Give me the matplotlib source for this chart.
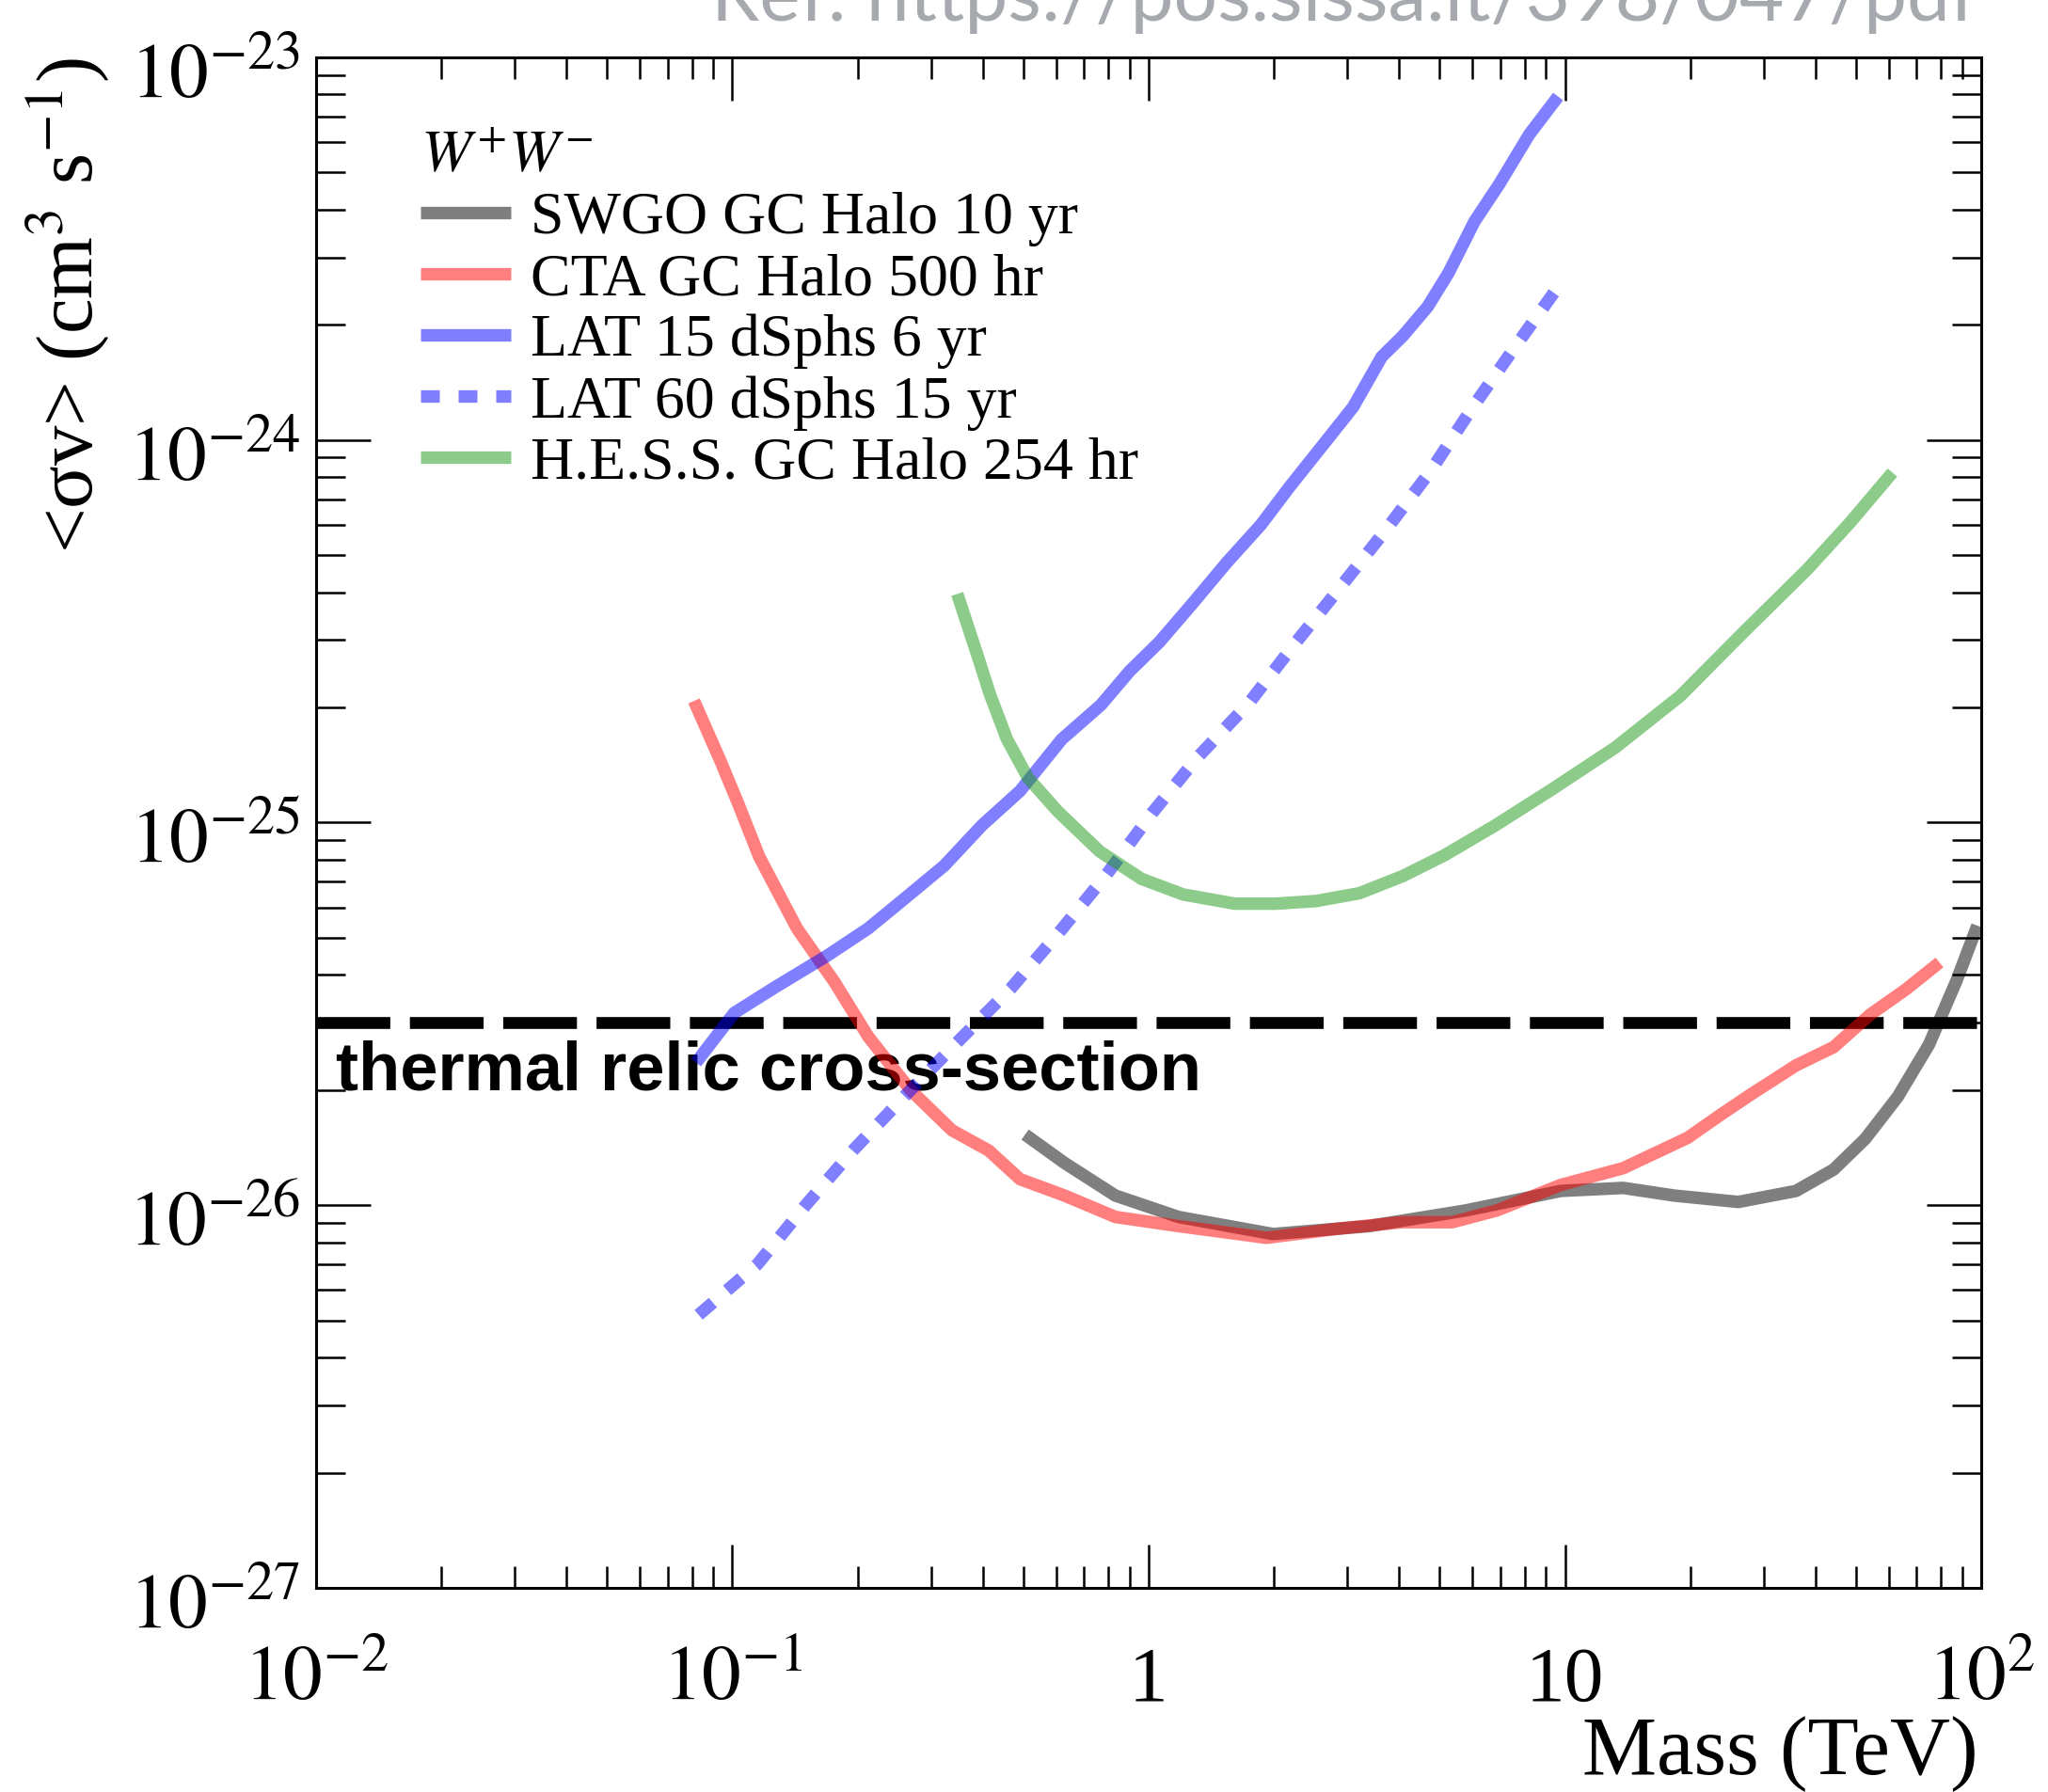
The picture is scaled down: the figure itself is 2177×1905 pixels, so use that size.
import matplotlib

matplotlib.use("Agg")
import matplotlib.pyplot as plt
import matplotlib.transforms as mtransforms
from matplotlib.ticker import FixedLocator, LogLocator, NullFormatter
import numpy as np

plt.rcParams["font.family"] = ["Liberation Serif", "DejaVu Serif"]
plt.rcParams["mathtext.fontset"] = "stix"

# W+W- channel: <sigma v> upper limits (cm^3 s^-1) vs DM mass (TeV)
swgo_mass = [0.505, 0.628, 0.832, 1.18, 1.99, 3.38, 5.77, 9.77, 13.8, 18.3,
             26.1, 35.9, 44.2, 52.6, 63.0, 74.9, 87.2, 97.9]
swgo_sv = [1.53e-26, 1.29e-26, 1.06e-26, 9.32e-27, 8.41e-27, 8.82e-27, 9.69e-27,
           1.09e-26, 1.11e-26, 1.06e-26, 1.02e-26, 1.09e-26, 1.24e-26, 1.49e-26,
           1.92e-26, 2.63e-26, 3.86e-26, 5.38e-26]

cta_mass = [0.0809, 0.0939, 0.103, 0.116, 0.143, 0.176, 0.212, 0.268, 0.337, 0.413,
            0.491, 0.628, 0.832, 1.18, 1.92, 2.84, 4.05, 5.36, 6.86, 9.77,
            13.8, 19.7, 23.4, 28.0, 35.9, 44.2, 54.1, 65.8, 79.4]
cta_sv = [2.08e-25, 1.44e-25, 1.13e-25, 8.15e-26, 5.29e-26, 3.83e-26, 2.76e-26,
          2.00e-26, 1.57e-26, 1.39e-26, 1.17e-26, 1.06e-26, 9.32e-27, 8.82e-27,
          8.22e-27, 8.68e-27, 9.03e-27, 9.03e-27, 9.69e-27, 1.13e-26, 1.25e-26,
          1.50e-26, 1.71e-26, 1.95e-26, 2.32e-26, 2.59e-26, 3.15e-26, 3.66e-26,
          4.31e-26]

lat15_mass = [0.0818, 0.101, 0.127, 0.169, 0.212, 0.262, 0.323, 0.398, 0.491, 0.618,
              0.768, 0.901, 1.06, 1.27, 1.54, 1.86, 2.18, 2.62, 3.10, 3.63,
              4.08, 4.68, 5.25, 6.06, 6.96, 8.21, 9.63]
lat15_sv = [2.36e-26, 3.18e-26, 3.72e-26, 4.49e-26, 5.29e-26, 6.39e-26, 7.72e-26,
            9.84e-26, 1.21e-25, 1.65e-25, 2.03e-25, 2.49e-25, 2.96e-25, 3.72e-25,
            4.78e-25, 6.00e-25, 7.54e-25, 9.69e-25, 1.22e-24, 1.65e-24, 1.87e-24,
            2.23e-24, 2.73e-24, 3.72e-24, 4.67e-24, 6.29e-24, 7.90e-24]

lat60_mass = [0.0830, 0.115, 0.150, 0.196, 0.262, 0.345, 0.467, 0.610, 0.791, 1.02,
              1.31, 1.74, 2.22, 2.88, 3.71, 4.75, 5.98, 7.53, 9.77]
lat60_sv = [5.17e-27, 7.02e-27, 1.00e-26, 1.40e-26, 1.95e-26, 2.65e-26, 3.69e-26,
            5.17e-26, 7.30e-26, 1.06e-25, 1.48e-25, 2.05e-25, 2.89e-25, 4.11e-25,
            5.81e-25, 8.28e-25, 1.21e-24, 1.73e-24, 2.57e-24]

hess_mass = [0.347, 0.390, 0.416, 0.457, 0.513, 0.605, 0.763, 0.961, 1.21, 1.61,
             2.02, 2.53, 3.21, 4.08, 5.14, 6.81, 9.29, 13.2, 18.9, 26.9,
             38.2, 48.2, 61.2]
hess_sv = [3.96e-25, 2.69e-25, 2.16e-25, 1.65e-25, 1.31e-25, 1.07e-25, 8.41e-26,
           7.13e-26, 6.49e-26, 6.14e-26, 6.14e-26, 6.24e-26, 6.54e-26, 7.25e-26,
           8.22e-26, 9.84e-26, 1.22e-25, 1.57e-25, 2.14e-25, 3.15e-25, 4.59e-25,
           6.05e-25, 8.22e-25]

THERMAL_RELIC = 3.0e-26

X_TICKS = [1e-2, 1e-1, 1, 10, 1e2]
X_TICK_LABELS = [r"$10^{-2}$", r"$10^{-1}$", "1", "10", r"$10^{2}$"]
Y_TICKS = [1e-27, 1e-26, 1e-25, 1e-24, 1e-23]
Y_TICK_LABELS = [r"$10^{-27}$", r"$10^{-26}$", r"$10^{-25}$", r"$10^{-24}$", r"$10^{-23}$"]

LW = 9.6
ALPHA = 0.5

fig = plt.figure(figsize=(21.77, 19.05), dpi=100)
ax = fig.add_axes([0.1543, 0.1139, 0.8131, 0.8541])
ax.set_xscale("log")
ax.set_yscale("log")
ax.set_xlim(1e-2, 1e2)
ax.set_ylim(1e-27, 1e-23)

# thermal relic line + label sit under the curves
ax.axhline(THERMAL_RELIC, color="black", lw=9.1, dashes=(6.2, 1.65),
           dash_capstyle="butt", zorder=1)
ax.text(0.012, 2.0e-26, "thermal relic cross-section", transform=ax.get_yaxis_transform(),
        family="Liberation Sans", fontweight="bold", fontsize=52, va="baseline", ha="left",
        zorder=1)

ax.plot(swgo_mass, swgo_sv, color="black", alpha=ALPHA, lw=LW, solid_capstyle="butt",
        label="SWGO GC Halo 10 yr", zorder=3)
ax.plot(cta_mass, cta_sv, color="red", alpha=ALPHA, lw=LW, solid_capstyle="butt",
        label="CTA GC Halo 500 hr", zorder=3)
ax.plot(lat15_mass, lat15_sv, color="blue", alpha=ALPHA, lw=LW, solid_capstyle="butt",
        label="LAT 15 dSphs 6 yr", zorder=3)
ax.plot(lat60_mass, lat60_sv, color="blue", alpha=ALPHA, lw=LW, dashes=(1.5, 1.5),
        dash_capstyle="butt", label="LAT 60 dSphs 15 yr", zorder=3)
ax.plot(hess_mass, hess_sv, color=(0.1, 0.6, 0.08), alpha=ALPHA, lw=LW,
        solid_capstyle="butt", label="H.E.S.S. GC Halo 254 hr", zorder=3)

ax.legend(loc="upper left", bbox_to_anchor=(0.0627, 0.952), frameon=False, fontsize=46,
          title=r"$W^{+}W^{-}$", title_fontsize=46, alignment="left",
          handlelength=1.5, handletextpad=0.33, labelspacing=0.1,
          borderpad=0, borderaxespad=0)

# ticks: inside on all four sides, ROOT style
ax.xaxis.set_major_locator(FixedLocator(X_TICKS))
ax.set_xticklabels(X_TICK_LABELS)
ax.yaxis.set_major_locator(FixedLocator(Y_TICKS))
ax.set_yticklabels(Y_TICK_LABELS)
ax.xaxis.set_minor_locator(LogLocator(base=10, subs=np.arange(2, 10)))
ax.yaxis.set_minor_locator(LogLocator(base=10, subs=np.arange(2, 10)))
ax.xaxis.set_minor_formatter(NullFormatter())
ax.yaxis.set_minor_formatter(NullFormatter())
ax.tick_params(which="both", direction="in", top=True, right=True, width=1.8)
ax.tick_params(axis="x", which="major", length=33, labelsize=60, pad=86)
ax.tick_params(axis="x", which="minor", length=16.5)
ax.tick_params(axis="y", which="major", length=42, labelsize=60, pad=12)
ax.tick_params(axis="y", which="minor", length=22)
plt.setp(ax.get_xticklabels(), va="baseline")
shift_down = mtransforms.ScaledTranslation(0, -0.43, fig.dpi_scale_trans)
for lbl in ax.get_yticklabels():
    lbl.set_va("baseline")
    lbl.set_transform(lbl.get_transform() + shift_down)
for sp in ax.spines.values():
    sp.set_linewidth(2.2)

ax.set_xlabel("Mass (TeV)", fontsize=64)
ax.xaxis.set_label_coords(0.998, -0.122)
ax.xaxis.label.set_ha("right")
ax.xaxis.label.set_va("baseline")

ax.set_ylabel(r"<σv> (cm$^{3}$ s$^{-1}$)", fontsize=61)
ax.yaxis.set_label_coords(-0.149, 1.0)
ax.yaxis.label.set_rotation_mode("anchor")
ax.yaxis.label.set_ha("right")
ax.yaxis.label.set_va("center")

fig.text(0.9655, 1 - 22 / 1905, "Ref: https://pos.sissa.it/398/047/pdf", ha="right",
         va="baseline", fontsize=59, color="#a6aaae", family="Lato")

fig.savefig("out.png", dpi=100)
